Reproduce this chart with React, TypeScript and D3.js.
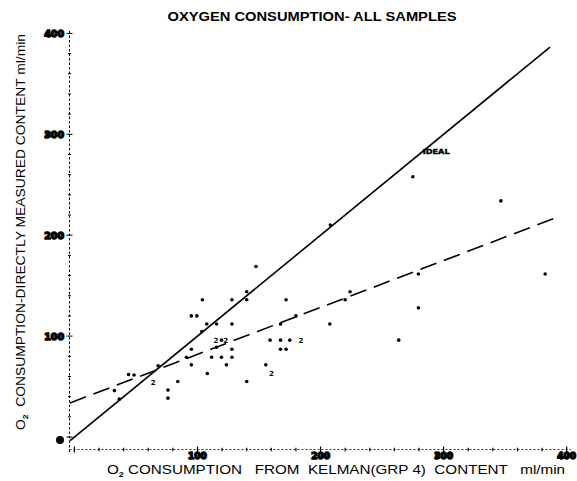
import React from "react";
import * as d3 from "d3";

// O2 consumption, Kelman (GRP 4) content (x) vs directly measured content (y), ml/min
const kelman = [
  147.5, 104, 128, 140, 140, 172, 95, 99.5, 107.5, 115.5, 128, 103.5, 119.5,
  95, 115.5, 128, 91, 111.5, 119.5, 128, 95, 123.5, 68, 108, 44, 48.5, 84,
  76, 76, 32.5, 36.5, 140, 167.5, 180, 207.5, 220, 224, 159, 167.5, 175,
  167.5, 172, 155.5, 263.5, 279.5, 279.5, 275, 346.5, 382.5, 208,
];
const measured = [
  169, 136, 136, 136, 144, 136, 120, 120, 112, 112, 112, 104.5, 96, 87, 89,
  87, 79, 79, 79, 79, 71.5, 71.5, 70.5, 63, 62, 61.5, 55, 46.5, 38.5, 46,
  37.5, 55, 112, 120, 112, 136, 144, 96, 96, 96, 87, 87, 71.5, 96, 161.5,
  128, 258, 234, 161.5, 210,
];

// Positions where two samples coincide (plotted as the digit "2")
const pairKelman = [115, 123, 64, 184, 160];
const pairMeasured = [96, 96, 54, 96, 63];

const xTickLabels = [100, 200, 300, 400];
const yTickLabels = [0, 100, 200, 300, 400];

// Fitted regression of measured on Kelman content, and the line of identity
const fitIntercept = 35.4;
const fitSlope = 0.465;
const lineStart = -3.5;
const fitEnd = 389;
const idealEnd = 386.5;

const W = 577;
const H = 481;

export default function App() {
  const x = d3.scaleLinear().domain([0, 400]).range([74.4, 566.7]);
  const y = d3.scaleLinear().domain([0, 400]).range([437, 33.4]);

  const axisX = 69.5; // y-axis drawn just left of x = 0
  const axisY = 449.5; // x-axis drawn just below y = 0

  const line = d3
    .line<[number, number]>()
    .x((d) => x(d[0]))
    .y((d) => y(d[1]));

  const idealPath = line([
    [lineStart, lineStart],
    [idealEnd, idealEnd],
  ]);
  const fitPath = line([
    [lineStart, fitIntercept + fitSlope * lineStart],
    [fitEnd, fitIntercept + fitSlope * fitEnd],
  ]);

  const minorTicks = d3.range(0, 401, 20);

  const blobText = {
    fontFamily: "'DejaVu Sans', sans-serif",
    fontWeight: 900 as const,
    fill: "#000",
    stroke: "#000",
    strokeWidth: 1.5,
  };

  return (
    <svg
      width={W}
      height={H}
      viewBox={`0 0 ${W} ${H}`}
      style={{ position: "absolute", left: 0, top: 0, background: "#fff" }}
    >
      <rect width={W} height={H} fill="#fff" />

      {/* title */}
      <text
        x={312}
        y={21}
        textAnchor="middle"
        fontFamily="'Liberation Sans', Arial, sans-serif"
        fontWeight={700}
        fontSize={13}
        textLength={289}
        lengthAdjust="spacingAndGlyphs"
      >
        OXYGEN CONSUMPTION- ALL SAMPLES
      </text>

      {/* y axis */}
      <line
        x1={axisX}
        x2={axisX}
        y1={31}
        y2={452}
        stroke="#000"
        strokeWidth={1}
        strokeDasharray="2.5,2"
      />
      {minorTicks.map((t) => (
        <line
          key={"yt" + t}
          x1={axisX - (t % 100 === 0 ? 3 : 1.5)}
          x2={axisX + (t % 100 === 0 ? 3 : 1.5)}
          y1={y(t)}
          y2={y(t)}
          stroke="#000"
          strokeWidth={1}
        />
      ))}

      {/* x axis */}
      <line
        x1={axisX}
        x2={571}
        y1={axisY}
        y2={axisY}
        stroke="#000"
        strokeWidth={0.8}
        strokeDasharray="2,2"
      />
      {minorTicks.map((t) => (
        <line
          key={"xt" + t}
          x1={x(t)}
          x2={x(t)}
          y1={axisY - (t % 100 === 0 ? 3 : 1.8)}
          y2={axisY + (t % 100 === 0 ? 3 : 1.8)}
          stroke="#000"
          strokeWidth={1.2}
        />
      ))}

      {/* tick labels */}
      {xTickLabels.map((t) => (
        <text
          key={"xl" + t}
          x={x(t)}
          y={459}
          textAnchor="middle"
          fontSize={9}
          {...blobText}
        >
          {t}
        </text>
      ))}
      {yTickLabels.map((t) =>
        t === 0 ? (
          <circle key="yl0" cx={60} cy={y(0) + 3} r={4} fill="#000" />
        ) : (
          <text
            key={"yl" + t}
            x={64}
            y={y(t) + 3.5}
            textAnchor="end"
            fontSize={9.5}
            {...blobText}
          >
            {t}
          </text>
        )
      )}

      {/* axis titles */}
      <text
        x={107}
        y={474}
        fontFamily="'Liberation Sans', Arial, sans-serif"
        fontSize={13.5}
        textLength={458}
        lengthAdjust="spacingAndGlyphs"
        style={{ whiteSpace: "pre" }}
      >
        O<tspan fontSize={8} dy={3} fontWeight={700}>2</tspan>
        <tspan dy={-3}>{" CONSUMPTION   FROM  KELMAN(GRP 4)  CONTENT   ml/min"}</tspan>
      </text>
      <text
        transform={`translate(25, 232) rotate(-90)`}
        textAnchor="middle"
        fontFamily="'Liberation Sans', Arial, sans-serif"
        fontSize={13}
        textLength={396}
        lengthAdjust="spacingAndGlyphs"
        style={{ whiteSpace: "pre" }}
      >
        O<tspan fontSize={8} dy={3} fontWeight={700}>2</tspan>
        <tspan dy={-3}>{"  CONSUMPTION-DIRECTLY MEASURED CONTENT ml/min"}</tspan>
      </text>

      {/* lines */}
      <path d={idealPath ?? ""} fill="none" stroke="#000" strokeWidth={1.6} />
      <path
        d={fitPath ?? ""}
        fill="none"
        stroke="#000"
        strokeWidth={1.6}
        strokeDasharray="17,8"
      />
      <text
        x={x(283)}
        y={y(280)}
        fontFamily="'DejaVu Sans', sans-serif"
        fontSize={7}
        fontWeight={900}
        stroke="#000"
        strokeWidth={0.4}
        textLength={27}
        lengthAdjust="spacingAndGlyphs"
      >
        IDEAL
      </text>

      {/* samples */}
      {kelman.map((k, i) => (
        <circle key={"p" + i} cx={x(k)} cy={y(measured[i])} r={1.8} fill="#000" />
      ))}
      {pairKelman.map((k, i) => (
        <text
          key={"q" + i}
          x={x(k)}
          y={y(pairMeasured[i]) + 2.5}
          textAnchor="middle"
          fontFamily="'DejaVu Sans', sans-serif"
          fontSize={7}
          fontWeight={700}
        >
          2
        </text>
      ))}
    </svg>
  );
}
